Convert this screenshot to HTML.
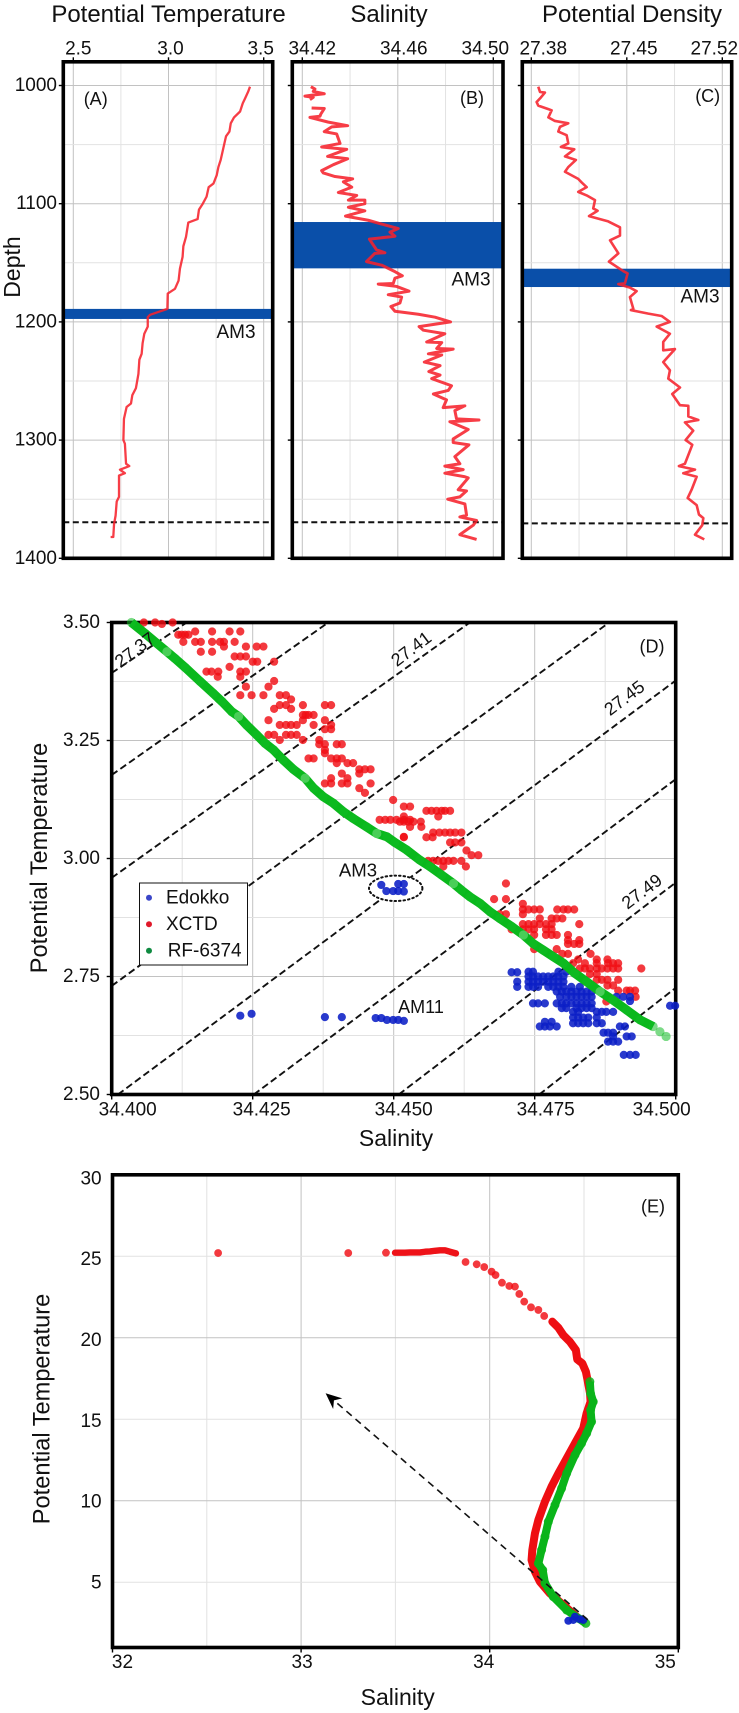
<!DOCTYPE html>
<html lang="en">
<head>
<meta charset="utf-8">
<title>Ocean profiles and T-S diagrams</title>
<style>
html,body{margin:0;padding:0;background:#fff;}
svg{display:block;font-family:"Liberation Sans",sans-serif;fill:#111;}
</style>
</head>
<body>
<svg id="figure" xmlns="http://www.w3.org/2000/svg" width="739" height="1713" viewBox="0 0 739 1713"></svg>
<script>
// ---------- Panel A/B/C data: depth profiles ----------
const depthTicks = [1000, 1100, 1200, 1300, 1400];
const depthGrid = [1000, 1050, 1100, 1150, 1200, 1250, 1300, 1350];
const thetaTicks = [2.5, 3.0, 3.5];
const thetaTickLabels = ['2.5', '3.0', '3.5'];
const thetaGrid = [2.5, 2.75, 3.0, 3.25, 3.5];
const salTicks = [34.42, 34.46, 34.50];
const salTickLabels = ['34.42', '34.46', '34.50'];
const salGrid = [34.42, 34.44, 34.46, 34.48, 34.50];
const sigmaTicks = [27.38, 27.45, 27.52];
const sigmaTickLabels = ['27.38', '27.45', '27.52'];
const sigmaGrid = [27.38, 27.415, 27.45, 27.485, 27.52];

const thetaDepth = [1001,1005,1011,1015,1022,1027,1032,1039,1043,1053,1063,1069,1076,1083,1086,1094,1100,1105,1113,1116,1128,1136,1145,1155,1165,1172,1176,1189,1194,1196,1204,1210,1218,1227,1232,1244,1256,1262,1269,1272,1282,1300,1303,1320,1322,1325,1328,1330,1348,1352,1364,1371,1382,1382];
const thetaValues = [3.428,3.419,3.402,3.39,3.376,3.344,3.327,3.32,3.302,3.288,3.274,3.262,3.253,3.236,3.211,3.2,3.18,3.16,3.153,3.104,3.092,3.078,3.074,3.06,3.053,3.034,2.996,2.994,2.903,2.891,2.891,2.873,2.864,2.859,2.847,2.842,2.829,2.81,2.803,2.78,2.766,2.763,2.771,2.777,2.794,2.745,2.771,2.74,2.74,2.728,2.722,2.714,2.71,2.696];

const salinityDepth = [1001,1003,1005,1007,1008,1009,1010,1012,null,1019,1019.5,1024,1026,1027,1031,1034,1035,1039,1041,1049,1052,1054,1060,1062,1067,1072,1074,1077,1079,1081.5,1086,1090.5,1093,1097,1097,1100,1103,1106,1110.5,1114,1118,1121,1124,1127.5,1130,1139,1141.5,1142,1149,1152,1157.5,1161,1163,1167.5,1168,1170,1174,1177,1179,1184,1187,1191,1193.5,1196,1200,1204,1207,1210,1217,1217.5,1222.5,1223,1227,1228,1234,1237,1242,1245,1248,1254,1258,1261,1266,1272.5,1271,1275,1282,1283,1284.5,1291,1299,1302,1304,1314,1320,1322,1325,1328,1331,1332,1342,1343,1348,1350,1354,1363.5,1365,1368,1372,1380,1384];
const salinityValues = [34.4236,34.4253,34.4246,34.4292,34.4246,34.4211,34.4246,34.4232,null,34.4239,34.4292,34.4278,34.4274,34.4232,34.4309,34.439,34.4323,34.4292,34.4344,34.4358,34.4281,34.4386,34.4306,34.439,34.433,34.4281,34.4288,34.4337,34.4411,34.4372,34.4407,34.4351,34.4428,34.4393,34.4462,34.4462,34.4393,34.4462,34.4381,34.4476,34.4546,34.4602,34.4567,34.4588,34.4481,34.4511,34.4546,34.4504,34.4469,34.4532,34.4588,34.4619,34.4588,34.4581,34.4518,34.4595,34.4647,34.456,34.4616,34.4609,34.4571,34.4588,34.4686,34.4756,34.4821,34.4689,34.4707,34.4797,34.4721,34.4784,34.4763,34.4832,34.4728,34.4784,34.4711,34.4777,34.473,34.4777,34.4742,34.4825,34.4811,34.4749,34.4804,34.479,34.4881,34.4839,34.4846,34.494,34.4818,34.4895,34.4832,34.4832,34.4898,34.4839,34.486,34.4797,34.4874,34.4797,34.4881,34.4895,34.4853,34.4888,34.486,34.4809,34.4881,34.4888,34.486,34.493,34.4916,34.486,34.493];

const sigmaDepth = [1001,1005.5,1006,1010,1014,1017,1020,1021,1027,1030,1032,1035,1039,1042,1049,1052,1054,1060,1063,1069,1073,1079,1082,1086,1090,1093,1097,1104,1106,1110.5,1115,1120,1127,1131,1142,1149,1157,1159,1167.5,1168,1171,1174,1179,1189,1190,1193,1195,1200,1204,1210,1217,1224,1223,1234,1241,1248,1255.5,1261,1270.5,1271,1280,1283,1285,1292,1300,1304,1320,1322,1325,1328,1331,1342,1349,1355,1363,1366,1372,1380,1384];
const sigmaValues = [27.3851,27.3864,27.39,27.3871,27.3839,27.3851,27.3925,27.3949,27.3925,27.3973,27.4071,27.401,27.3998,27.4059,27.4071,27.4017,27.4115,27.4047,27.4127,27.4071,27.4047,27.4144,27.4169,27.4206,27.4144,27.4206,27.4267,27.4254,27.4286,27.4223,27.4364,27.445,27.445,27.4377,27.4438,27.4369,27.4474,27.4506,27.4486,27.4438,27.4523,27.4572,27.4523,27.4548,27.453,27.4658,27.4755,27.4816,27.4719,27.4816,27.4767,27.4767,27.4853,27.4767,27.4816,27.4804,27.489,27.4833,27.489,27.4951,27.4951,27.5024,27.4926,27.4987,27.4931,27.498,27.4926,27.4882,27.5,27.4914,27.5012,27.4975,27.4946,27.5012,27.5029,27.5061,27.5053,27.5,27.5068];

const am3BandA = [1189, 1197.5];
const am3BandB = [1115.5, 1154.7];
const am3BandC = [1155, 1170.5];
const bottomDepthAB = 1369.5;
const bottomDepthC = 1370.4;

// ---------- Panel D data: T-S zoom ----------
const dSalTicks = [34.400, 34.425, 34.450, 34.475, 34.500];
const dSalLabels = ['34.400', '34.425', '34.450', '34.475', '34.500'];
const dSalGrid = [34.4125, 34.425, 34.4375, 34.45, 34.4625, 34.475, 34.4875];
const dTempTicks = [2.5, 2.75, 3.0, 3.25, 3.5];
const dTempLabels = ['2.50', '2.75', '3.00', '3.25', '3.50'];
const dTempGrid = [2.625, 2.75, 2.875, 3.0, 3.125, 3.25, 3.375];

const contourStartS = [34.4, 34.4, 34.4, 34.4, 34.4011, 34.4252, 34.4509, 34.4758];
const contourStartT = [3.393, 3.177, 2.959, 2.730, 2.5, 2.5, 2.5, 2.5];
const contourEndS = [34.4133, 34.4384, 34.4635, 34.4882, 34.5, 34.5, 34.5, 34.5];
const contourEndT = [3.5, 3.5, 3.5, 3.5, 3.377, 3.168, 2.949, 2.726];
const contourLabels = ['27.37', '27.41', '27.45', '27.49'];
const contourLabelS = [34.4041, 34.4531, 34.4909, 34.494];
const contourLabelT = [3.442, 3.444, 3.34, 2.93];

const xctdRowT = [3.5,3.497,3.481,3.474,3.459,3.449,3.438,3.428,3.417,3.406,3.396,3.385,3.376,3.364,3.346,3.337,3.325,3.317,3.304,3.293,3.283,3.274,3.262,3.251,3.242,3.23,3.223,3.212,3.202,3.189,3.18,3.17,3.159,3.149,3.139,3.124,3.11,3.101,3.089,3.082,3.078,3.067,3.055,3.046,3.045,3.034,3.017,3.007,2.995,2.983,2.947,2.914,2.904,2.892,2.882,2.873,2.861,2.85,2.838,2.827,2.819,2.808,2.798,2.786,2.778,2.767,2.755,2.743,2.731,2.72,2.707,2.697];
const xctdRowS = [
[34.4057,34.4077,34.4108],[34.4089],[34.4148,34.4178,34.4209,34.4228],[34.4118,34.4124,34.413,34.4136],
[34.4127,34.4148,34.4158,34.4178,34.4192,34.4199,34.4218],[34.4199,34.4238,34.4257,34.4269],[34.4158,34.4178],[34.4218,34.4228,34.4238],
[34.425,34.4258,34.4288],[34.4209],[34.4168,34.4177,34.4189,34.4228,34.4238],[34.4188,34.4228],[34.4288],[34.4278,34.4238],
[34.4269,34.4228,34.4248,34.4298,34.4309],[34.4318],[34.4298,34.4309,34.4339,34.4378,34.4389],[34.4288,34.4318],
[34.4349,34.4358,34.4339,34.4344],[34.4278,34.4378,34.4339],[34.4298,34.4309,34.4318,34.4328,34.4358,34.4389],[34.4378,34.4389],
[34.4278,34.4288,34.4309,34.4328,34.4318],[34.4298,34.4339,34.4368],[34.4368,34.4378,34.4399,34.4408],[34.4378],[34.4378],
[34.4349,34.4358,34.4389,34.4399,34.4408],[34.4399,34.4418,34.4428],[34.4439,34.4449,34.4459],[34.4439,34.4408],[34.4389,34.4418],
[34.4378,34.4389,34.4408,34.4418,34.4459],[34.4439],[34.4449],[34.4499],[34.4518,34.4529],
[34.4558,34.4567,34.4576,34.4585,34.4591,34.46],[34.4518,34.4579],[34.4475,34.4485,34.4494,34.4505,34.4518,34.4529],
[34.4511,34.4518,34.4526,34.4535,34.4548],[34.4529,34.4549],[34.457,34.4581,34.4591,34.46,34.4609,34.462],[34.4518],
[34.4558,34.4569,34.4518],[34.46,34.4609,34.462],[34.4629],[34.465,34.4638],
[34.4561,34.457,34.4579,34.4588,34.4597,34.4606,34.462],[34.4588,34.4628],[34.4699],[34.4678,34.4699],[34.4729],
[34.4729,34.4739,34.4749,34.4759,34.479,34.4801,34.4809,34.482],[34.4729,34.4688,34.4699],[34.4759,34.478,34.4789,34.4799],
[34.4729,34.4739,34.4749,34.4759,34.477,34.478,34.4829],[34.4709,34.4729,34.4739,34.4749,34.477,34.478],
[34.4749,34.477,34.478,34.4789,34.4809],[34.4809,34.4829],[34.4809,34.482,34.4829],[34.4749,34.4789],[34.4849,34.4799,34.4809],
[34.4827,34.4879,34.486],[34.4818,34.4839,34.486,34.488,34.4889,34.4898],
[34.483,34.4839,34.4848,34.486,34.4869,34.4879,34.4889,34.4898,34.4939],[34.4848,34.486],[34.486,34.4869,34.4879,34.4898],
[34.4879,34.4889],[34.4913,34.4928,34.4919,34.4898],[34.4929],[34.4877]
];

const edokkoRowT = [2.946,2.944,2.931,2.93,2.76,2.759,2.75,2.739,2.728,2.718,2.707,2.698,2.693,2.688,2.683,2.675,2.671,2.667,2.664,2.663,2.662,2.658,2.656,2.654,2.651,2.644,2.631,2.623,2.612,2.584];
const edokkoRowS = [
[34.4508,34.4518],[34.4478],[34.4487,34.4499,34.4508],[34.4518],
[34.4739,34.4747,34.4792,34.4806],[34.4709,34.4719],
[34.4739,34.4747,34.4756,34.4765,34.4774,34.4783,34.4792,34.4801],
[34.4719,34.4739,34.4747,34.4756,34.4765,34.4774,34.4783,34.4792,34.4801],
[34.4719,34.4739,34.4747,34.4756,34.4774,34.4783,34.4792,34.4801,34.4815,34.483],
[34.4789,34.4798,34.4806,34.4815,34.4824,34.4833,34.4842,34.4851],
[34.4795,34.4806,34.4815,34.4824,34.4833,34.4842,34.4851,34.4895,34.4907,34.4919],[34.4919],
[34.4747,34.4756,34.4768,34.4789,34.4798,34.4806,34.4815,34.4824,34.4833,34.4842,34.4851],[34.499,34.4999],
[34.4798,34.4806,34.4824,34.4833,34.4842,34.4851],[34.4818,34.4827,34.486,34.4869,34.4877,34.4889],
[34.4248],[34.4228],[34.4378,34.4408],[34.4818,34.4827,34.4836,34.4845,34.486],[34.4468,34.4478],[34.4488,34.4499,34.4508],[34.4518],
[34.4768,34.478],[34.4818,34.4827,34.4836,34.4845,34.486,34.4869],[34.4759,34.4768,34.4777,34.4789,34.4901,34.491],
[34.4872,34.488,34.4889],[34.4913,34.4922,34.4889],[34.488,34.4889,34.4898],[34.4908,34.4919,34.4929]
];

const rfSalinity = [34.4035,34.4059,34.408,34.4098,34.4112,34.413,34.4157,34.418,34.4196,34.4213,34.4225,34.4239,34.4257,34.4272,34.4287,34.4304,34.4322,34.4343,34.4358,34.4375,34.4393,34.4411,34.4428,34.4452,34.447,34.4488,34.4502,34.4523,34.4546,34.4564,34.4585,34.4606,34.462,34.4635,34.4653,34.4671,34.4688,34.4709,34.473,34.4747,34.4765,34.4783,34.4801,34.4821,34.4842,34.4866,34.4889,34.4913,34.4937,34.496,34.4972,34.4983];
const rfTemperature = [3.5,3.477,3.456,3.438,3.424,3.405,3.375,3.35,3.332,3.311,3.301,3.283,3.262,3.244,3.23,3.209,3.189,3.17,3.149,3.131,3.117,3.099,3.085,3.067,3.053,3.046,3.034,3.018,2.997,2.983,2.965,2.947,2.933,2.919,2.905,2.887,2.873,2.856,2.838,2.82,2.806,2.792,2.778,2.757,2.739,2.718,2.7,2.679,2.658,2.644,2.633,2.623];

// ---------- Panel E data: full T-S ----------
const eSalTicks = [32, 33, 34, 35];
const eSalLabels = ['32', '33', '34', '35'];
const eSalGrid = [32.5, 33, 33.5, 34, 34.5];
const eTempTicks = [5, 10, 15, 20, 25, 30];
const eTempLabels = ['5', '10', '15', '20', '25', '30'];
const eTempGrid = [5, 10, 15, 20, 25];

const eXctdSparseS = [32.56,33.25,33.45,33.872,33.931,33.971,34.01,34.031,34.065,34.104,34.134,34.157,34.183,34.219,34.258,34.289];
const eXctdSparseT = [25.2,25.2,25.22,24.65,24.51,24.34,24.06,23.85,23.38,23.18,23.14,22.69,22.22,21.87,21.71,21.34];
const eXctdSurfaceS = [33.498,33.524,33.551,33.577,33.604,33.63,33.657,33.683,33.71,33.736,33.763,33.789,33.821];
const eXctdSurfaceT = [25.22,25.22,25.22,25.24,25.24,25.24,25.28,25.3,25.34,25.37,25.37,25.28,25.18];
const eXctdTrailS = [34.332,34.364,34.39,34.425,34.457,34.464,34.491,34.51,34.517,34.532,34.535,34.514,34.496,34.452,34.408,34.364,34.328,34.293,34.258,34.24,34.226,34.222,34.24,34.266,34.319,34.39,34.461];
const eXctdTrailT = [20.99,20.62,20.17,19.76,19.25,18.68,18.43,17.92,17.51,16.59,16.08,15.37,14.45,13.53,12.6,11.68,10.87,9.95,8.82,8,6.98,6.37,5.65,5.04,4.32,3.61,2.89];
const eRfS = [34.531,34.535,34.549,34.535,34.54,34.514,34.487,34.452,34.408,34.381,34.346,34.311,34.293,34.275,34.258,34.281,34.293,34.337,34.408,34.47,34.51];
const eRfT = [17.31,16.59,16.08,15.57,14.85,14.14,13.53,12.81,11.68,10.76,9.74,8.72,7.8,6.98,6.16,5.75,4.94,4.12,3.3,2.79,2.48];
const eEdokkoS = [34.417,34.443,34.452,34.479,34.496];
const eEdokkoT = [2.64,2.69,2.89,2.73,2.69];
const arrowStartS = 34.52;
const arrowStartT = 2.7;
const arrowEndS = 33.13;
const arrowEndT = 16.6;

// ---------- helpers ----------
const svg = document.getElementById('figure');
const NS = 'http://www.w3.org/2000/svg';
const linear = (d0, r0, d1, r1) => v => r0 + (v - d0) * (r1 - r0) / (d1 - d0);
const GRID_MAJOR = '#c2c2c2';
const GRID_MINOR = '#e2e2e2';

function add(tag, attrs, parent) {
  const node = document.createElementNS(NS, tag);
  for (const k in attrs) node.setAttribute(k, attrs[k]);
  (parent || svg).appendChild(node);
  return node;
}
function addText(str, x, y, size, anchor, parent) {
  const node = add('text', {x: x, y: y, 'font-size': size, 'text-anchor': anchor || 'middle', 'dominant-baseline': 'central'}, parent);
  node.textContent = str;
  return node;
}
function pathFrom(xs, ys, fx, fy) {
  let d = '', pen = false;
  for (let i = 0; i < xs.length; i++) {
    if (xs[i] === null || ys[i] === null) { pen = false; continue; }
    d += (pen ? 'L' : 'M') + fx(xs[i]).toFixed(2) + ' ' + fy(ys[i]).toFixed(2);
    pen = true;
  }
  return d;
}
function group(name) {
  const g = add('g', {});
  
  
  return g;
}
function vGrid(values, fx, top, bottom, parent, majors) {
  values.forEach(v => {
    const el = add('line', {x1: fx(v), x2: fx(v), y1: top, y2: bottom, stroke: majors.includes(v) ? GRID_MAJOR : GRID_MINOR, 'stroke-width': 1}, parent);
    
    
  });
}
function hGrid(values, fy, left, right, parent, majors) {
  values.forEach(v => {
    const el = add('line', {x1: left, x2: right, y1: fy(v), y2: fy(v), stroke: majors.includes(v) ? GRID_MAJOR : GRID_MINOR, 'stroke-width': 1}, parent);
    
    
  });
}
function frame(l, t, r, b, parent) {
  const el = add('rect', {x: l, y: t, width: r - l, height: b - t, fill: 'none', stroke: '#000', 'stroke-width': 3.6}, parent);
  
  
}
function tickX(v, fx, y, len, parent) {
  const el = add('line', {x1: fx(v), x2: fx(v), y1: y, y2: y + len, stroke: '#000', 'stroke-width': 1.4}, parent);
  
  
}
function tickY(v, fy, x, len, parent) {
  const el = add('line', {x1: x, x2: x + len, y1: fy(v), y2: fy(v), stroke: '#000', 'stroke-width': 1.4}, parent);
  
  
}
function dot(x, y, r, fill, op, name, parent) {
  const el = add('circle', {cx: x.toFixed(2), cy: y.toFixed(2), r: r, fill: fill, 'fill-opacity': op}, parent);
  
  
  return el;
}

// ---------- profile panels ----------
const yDepth = linear(1000, 85.5, 1400, 558.3);
const panelTop = 61.8, panelBottom = 558.3;

function profilePanel(opt) {
  const g = group(opt.name);
  const fx = opt.fx;
  vGrid(opt.grid, fx, panelTop, panelBottom, g, opt.ticks);
  hGrid(depthGrid, yDepth, opt.left, opt.right, g, depthTicks);
  const band = add('rect', {x: opt.left, y: yDepth(opt.band[0]), width: opt.right - opt.left, height: yDepth(opt.band[1]) - yDepth(opt.band[0]), fill: '#0a4fa9'}, g);
  
  
  const dash = add('line', {x1: opt.left, x2: opt.right, y1: yDepth(opt.dashDepth), y2: yDepth(opt.dashDepth), stroke: '#111', 'stroke-width': 2, 'stroke-dasharray': '6 3.5'}, g);
  
  
  const trace = add('path', {d: pathFrom(opt.values, opt.depths, fx, yDepth), fill: 'none', stroke: '#f6222c', 'stroke-opacity': 0.88, 'stroke-width': opt.width, 'stroke-linejoin': 'round'}, g);
  
  
  frame(opt.left, panelTop, opt.right, panelBottom, g);
  opt.ticks.forEach((v, i) => {
    tickX(v, fx, panelTop - 4.5, 3, g);
    const lab = addText(opt.labels[i], fx(v) + opt.nudge[i], 49, 19, 'middle', g);
    
    
  });
  depthTicks.forEach(v => tickY(v, yDepth, opt.left - 4.5, 3, g));
  const title = addText(opt.title, opt.titleX, 14.5, 24, 'middle', g);
  
  
  const letter = addText(opt.letter, opt.letterX, opt.letterY, 18, 'middle', g);
  
  
  const am = addText('AM3', opt.amX, opt.amY, 19, 'middle', g);
  
  
}

profilePanel({name: 'potential-temperature-panel', title: 'Potential Temperature', titleX: 168.5, letter: '(A)', letterX: 95.7, letterY: 99, amX: 236, amY: 332.5,
  left: 63.3, right: 272.7, fx: linear(2.5, 73.3, 3.5, 263.7), grid: thetaGrid, ticks: thetaTicks, labels: thetaTickLabels, nudge: [5, 2, -3],
  values: thetaValues, depths: thetaDepth, band: am3BandA, dashDepth: bottomDepthAB, width: 2.3});
profilePanel({name: 'salinity-panel', title: 'Salinity', titleX: 389, letter: '(B)', letterX: 472, letterY: 98, amX: 471, amY: 280,
  left: 292.3, right: 503, fx: linear(34.42, 302.3, 34.50, 493.3), grid: salGrid, ticks: salTicks, labels: salTickLabels, nudge: [10, 6, -8],
  values: salinityValues, depths: salinityDepth, band: am3BandB, dashDepth: bottomDepthAB, width: 3});
profilePanel({name: 'potential-density-panel', title: 'Potential Density', titleX: 632, letter: '(C)', letterX: 707.7, letterY: 96, amX: 700, amY: 297,
  left: 522.3, right: 731.7, fx: linear(27.38, 531.3, 27.52, 722.3), grid: sigmaGrid, ticks: sigmaTicks, labels: sigmaTickLabels, nudge: [12, 7, -8],
  values: sigmaValues, depths: sigmaDepth, band: am3BandC, dashDepth: bottomDepthC, width: 2.6});

depthTicks.forEach(v => {
  const lab = addText(String(v), 57, yDepth(v), 19, 'end');
  
  
});
const depthTitle = addText('Depth', 0, 0, 23);
depthTitle.setAttribute('transform', 'translate(12,267) rotate(-90)');



// ---------- panel D ----------
const dLeft = 111.7, dRight = 675.7, dTop = 622.5, dBottom = 1094.5;
const xD = linear(34.4, dLeft, 34.5, dRight);
const yD = linear(2.5, dBottom, 3.5, dTop);
const gD = group('ts-zoom-panel');
vGrid(dSalGrid, xD, dTop, dBottom, gD, dSalTicks);
hGrid(dTempGrid, yD, dLeft, dRight, gD, dTempTicks);
contourStartS.forEach((s, i) => {
  const el = add('line', {x1: xD(s), y1: yD(contourStartT[i]), x2: xD(contourEndS[i]), y2: yD(contourEndT[i]), stroke: '#111', 'stroke-width': 1.9, 'stroke-dasharray': '7 3.6'}, gD);
  
  
});
frame(dLeft, dTop, dRight, dBottom, gD);
dSalTicks.forEach(v => tickX(v, xD, dBottom, 5, gD));
dTempTicks.forEach(v => tickY(v, yD, dLeft - 5, 5, gD));
const dNudge = [16, 9, 10, 11, -14];
dSalTicks.forEach((v, i) => {
  const el = addText(dSalLabels[i], xD(v) + dNudge[i], 1110, 19, 'middle', gD);
  
  
});
dTempTicks.forEach((v, i) => {
  const el = addText(dTempLabels[i], 100, yD(v), 19, 'end', gD);
  
  
});
const ellipse = add('ellipse', {cx: 395.7, cy: 888.3, rx: 26.7, ry: 12.7, fill: '#fff', stroke: '#111', 'stroke-width': 2, 'stroke-dasharray': '1.5 3', 'stroke-linecap': 'round'}, gD);



xctdRowT.forEach((t, r) => {
  xctdRowS[r].forEach(s => dot(xD(s), yD(t), 4.1, '#f00d14', 0.82, 'xctd-point', gD));
});
edokkoRowT.forEach((t, r) => {
  edokkoRowS[r].forEach(s => dot(xD(s), yD(t), 4.1, '#0b1fc6', 0.88, 'edokko-point', gD));
});
const rfBand = add('path', {d: pathFrom(rfSalinity.slice(0, -2), rfTemperature.slice(0, -2), xD, yD), fill: 'none', stroke: '#0ab81c', 'stroke-width': 9}, gD);


rfSalinity.forEach((s, i) => dot(xD(s), yD(rfTemperature[i]), 4.6, i % 7 === 3 ? '#7fe08a' : '#10bb24', 0.55, 'rf-6374-point', gD));

contourLabels.forEach((t, i) => {
  const el = addText(t, 0, 0, 18, 'middle', gD);
  el.setAttribute('transform', 'translate(' + xD(contourLabelS[i]) + ',' + yD(contourLabelT[i]) + ') rotate(-37)');
  
  
});

const am3D = addText('AM3', 358, 870, 18.6, 'middle', gD);


const am11 = addText('AM11', 421, 1007, 18, 'middle', gD);


const letterD = addText('(D)', 652, 646.5, 18, 'middle', gD);


const xTitleD = addText('Salinity', 396, 1138, 23, 'middle', gD);


const yTitleD = addText('Potential Temperature', 0, 0, 23.6, 'middle', gD);
yTitleD.setAttribute('transform', 'translate(40,858) rotate(-90)');



// legend
const legendG = add('g', {}, gD);


const legBox = add('rect', {x: 139.5, y: 883, width: 108, height: 82, fill: '#fff', stroke: '#111', 'stroke-width': 1}, legendG);


const legendNames = ['Edokko', 'XCTD', 'RF-6374'];
const legendColors = ['#3a45c8', '#e0182a', '#0e8a40'];
legendNames.forEach((n, i) => {
  const rowY = 897.7 + i * 26.5;
  const d = dot(149, rowY, 3, legendColors[i], 1, 'legend-marker', legendG);
  
  const tx = addText(n, i === 2 ? 167.7 : 166, rowY + 0.5, 19, 'start', legendG);
  
  
});

// ---------- panel E ----------
const eLeft = 112.5, eRight = 678.3, eTop = 1174.8, eBottom = 1647.5;
const xE = linear(32, eLeft, 35, eRight);
const yE = linear(30, eTop, 1, eBottom);
const gE = group('ts-full-panel');
vGrid(eSalGrid, xE, eTop, eBottom, gE, [33, 34]);
hGrid(eTempGrid, yE, eLeft, eRight, gE, [20, 10]);
frame(eLeft, eTop, eRight, eBottom, gE);
eSalTicks.forEach(v => tickX(v, xE, eBottom, 5, gE));
const eNudge = [10, 1, -6, -13];
eSalTicks.forEach((v, i) => {
  const el = addText(eSalLabels[i], xE(v) + eNudge[i], 1662.6, 19, 'middle', gE);
  
  
});
eTempTicks.forEach((v, i) => {
  const el = addText(eTempLabels[i], 101.6, yE(v) + v / 30 * 4, 19, 'end', gE);
  
  
});
eXctdSparseS.forEach((s, i) => dot(xE(s), yE(eXctdSparseT[i]), 3.9, '#f00d14', 0.82, 'xctd-point', gE));
const eRedSurface = add('path', {d: pathFrom(eXctdSurfaceS, eXctdSurfaceT, xE, yE), fill: 'none', stroke: '#ee1218', 'stroke-width': 6.4, 'stroke-linecap': 'round', 'stroke-linejoin': 'round'}, gE);


const eRedTrack = add('path', {d: pathFrom(eXctdTrailS, eXctdTrailT, xE, yE), fill: 'none', stroke: '#ee0e12', 'stroke-width': 8, 'stroke-linecap': 'round', 'stroke-linejoin': 'round'}, gE);


const eGreenTrack = add('path', {d: pathFrom(eRfS, eRfT, xE, yE), fill: 'none', stroke: '#0ab41a', 'stroke-width': 8, 'stroke-linejoin': 'round'}, gE);


eRfS.forEach((s, i) => dot(xE(s), yE(eRfT[i]), 4.5, '#0ab41a', 0.85, 'rf-6374-point', gE));
eEdokkoS.forEach((s, i) => dot(xE(s), yE(eEdokkoT[i]), 4, '#0b1fc6', 0.92, 'edokko-point', gE));

const ax0 = xE(arrowStartS), ay0 = yE(arrowStartT), ax1 = xE(arrowEndS), ay1 = yE(arrowEndT);
const ang = Math.atan2(ay1 - ay0, ax1 - ax0);
const shaft = add('line', {x1: ax0, y1: ay0, x2: ax1 - 12 * Math.cos(ang), y2: ay1 - 12 * Math.sin(ang), stroke: '#111', 'stroke-width': 1.6, 'stroke-dasharray': '7 5'}, gE);


const head = add('path', {d: 'M0 0L-16 -7L-11 0L-16 7Z', fill: '#000', transform: 'translate(' + ax1 + ',' + ay1 + ') rotate(' + (ang * 180 / Math.PI) + ')'}, gE);



const letterE = addText('(E)', 653, 1206.5, 18, 'middle', gE);


const xTitleE = addText('Salinity', 397.7, 1696.8, 23, 'middle', gE);


const yTitleE = addText('Potential Temperature', 0, 0, 23.6, 'middle', gE);
yTitleE.setAttribute('transform', 'translate(42.5,1409) rotate(-90)');


</script>
</body>
</html>
